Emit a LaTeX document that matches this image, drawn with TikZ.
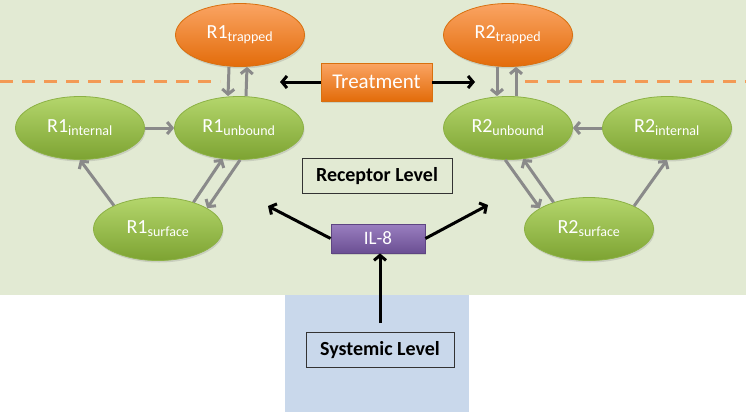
\documentclass[tikz,border=0pt]{standalone}
\usepackage{fontspec}
\setmainfont{Carlito}
\usetikzlibrary{arrows.meta,shapes.geometric,shadows}
\definecolor{bggreen}{HTML}{E2EAD3}
\definecolor{bgblue}{HTML}{C9D8EB}
\definecolor{gtop}{HTML}{B4D66C}
\definecolor{gbot}{HTML}{7DA332}
\definecolor{gdraw}{HTML}{8CB145}
\definecolor{otop}{HTML}{FAA463}
\definecolor{obot}{HTML}{E36C0A}
\definecolor{odraw}{HTML}{D8700F}
\definecolor{ptop}{HTML}{9A7FC0}
\definecolor{pbot}{HTML}{6B4F93}
\definecolor{pdraw}{HTML}{5E4582}
\definecolor{garrow}{HTML}{8A8A8A}
\definecolor{dashor}{HTML}{F39A55}
\begin{document}
\begin{tikzpicture}[x=1pt,y=-1pt,
  ell/.style={ellipse, minimum width=129pt, minimum height=63pt, inner sep=0pt,
    text=white, font=\fontsize{20}{22}\selectfont,
    drop shadow={opacity=0.25, shadow xshift=1pt, shadow yshift=-2pt}},
  greenell/.style={ell, draw=gdraw, line width=0.8pt, top color=gtop, bottom color=gbot},
  orangeell/.style={ell, draw=odraw, line width=0.8pt, top color=otop, bottom color=obot},
  garr/.style={draw=garrow, line width=3pt, -{Straight Barb[length=5pt,width=12pt]}},
  barr/.style={draw=black, line width=3pt, -{Straight Barb[length=5pt,width=12pt]}},
  lvlbox/.style={draw=black!80, line width=0.6pt, minimum width=150pt, minimum height=35pt,
    inner sep=0pt, font=\fontsize{20}{22}\selectfont\bfseries},
  odash/.style={draw=dashor, line width=3pt, dash pattern=on 13pt off 9pt}
]
\useasboundingbox (0,0) rectangle (746,412);
% backgrounds
\fill[bggreen] (0,0) rectangle (746,295);
\fill[bgblue] (285,295) rectangle (469,412);
% dashed lines
\coordinate (dl1) at (0,81);
\coordinate (dl2) at (220,81);
\coordinate (dr1) at (525,81);
\coordinate (dr2) at (746,81);
\draw[odash] (dl1) -- (dl2);
\draw[odash] (dr1) -- (dr2);
% ellipses
\node[orangeell] (r1t) at (240,35) {R1\textsubscript{trapped}};
\node[greenell] (r1i) at (80,128) {R1\textsubscript{internal}};
\node[greenell] (r1u) at (239,128) {R1\textsubscript{unbound}};
\node[greenell] (r1s) at (158,229) {R1\textsubscript{surface}};
\node[orangeell] (r2t) at (508,35) {R2\textsubscript{trapped}};
\node[greenell] (r2u) at (508,128) {R2\textsubscript{unbound}};
\node[greenell] (r2i) at (667,128) {R2\textsubscript{internal}};
\node[greenell] (r2s) at (589,229) {R2\textsubscript{surface}};
% boxes
\node[draw=odraw, line width=0.8pt, top color=otop, bottom color=obot, text=white,
  minimum width=111pt, minimum height=38pt, inner sep=0pt,
  font=\fontsize{21}{23}\selectfont,
  drop shadow={opacity=0.25, shadow xshift=1pt, shadow yshift=-2pt}] (treat) at (376.5,82) {Treatment};
\node[lvlbox] (rec) at (377,176) {Receptor Level};
\node[draw=pdraw, line width=0.8pt, top color=ptop, bottom color=pbot, text=white,
  minimum width=94pt, minimum height=29pt, inner sep=0pt,
  font=\fontsize{19}{21}\selectfont,
  drop shadow={opacity=0.25, shadow xshift=1pt, shadow yshift=-2pt}] (il8) at (378,238.5) {IL-8};
\node[lvlbox, minimum width=148pt] (sys) at (380,350) {Systemic Level};
% gray arrows, R1
\draw[garr] ([xshift=-11pt]r1t.south) -- ([xshift=-11pt]r1u.north);
\draw[garr] ([xshift=7pt]r1u.north) -- ([xshift=7pt]r1t.south);
\draw[garr] (r1i.east) -- (r1u.west);
\draw[garr] (r1s.152) -- (r1i.south);
\draw[garr] (r1s.37) -- (r1u.242);
\draw[garr] (r1u.272) -- (r1s.23);
% gray arrows, R2
\draw[garr] ([xshift=-11pt]r2t.south) -- ([xshift=-11pt]r2u.north);
\draw[garr] ([xshift=8pt]r2u.north) -- ([xshift=8pt]r2t.south);
\draw[garr] (r2i.west) -- (r2u.east);
\draw[garr] (r2u.265) -- (r2s.157);
\draw[garr] (r2s.143) -- (r2u.296);
\draw[garr] (r2s.27) -- (r2i.south);
% black arrows
\coordinate (tl) at (280,82);
\coordinate (tr) at (475,82);
\coordinate (il) at (268,206);
\coordinate (ir) at (488,205);
\coordinate (sv) at (380,323);
\draw[barr] (treat.west) -- (tl);
\draw[barr] (treat.east) -- (tr);
\draw[barr] (il8.west) -- (il);
\draw[barr] (il8.east) -- (ir);
\draw[barr] (sv) -- (sv |- il8.south);
\end{tikzpicture}
\end{document}
